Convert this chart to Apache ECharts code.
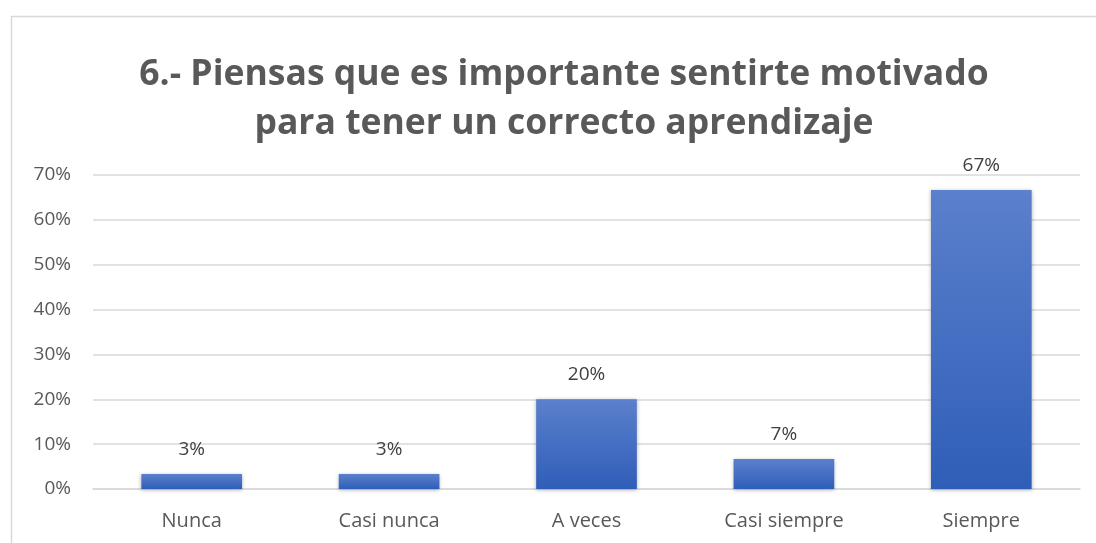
<!DOCTYPE html>
<html>
<head>
<meta charset="utf-8">
<script src="https://cdn.jsdelivr.net/npm/echarts@6/dist/echarts.min.js"></script>
<style>
  html, body { margin: 0; padding: 0; background: #fff; }
  #chart { width: 1096px; height: 543px; }
</style>
</head>
<body>
<div id="chart"></div>
<script>
var categories = ['Nunca', 'Casi nunca', 'A veces', 'Casi siempre', 'Siempre'];
var values = [3.33, 3.33, 20, 6.67, 66.67]; // porcentajes
var titleText = '6.- Piensas que es importante sentirte motivado\npara tener un correcto aprendizaje';

var myChart = echarts.init(document.getElementById('chart'));
var option = {
    animation: false,
    textStyle: { fontFamily: 'Open Sans' },
    graphic: [{
        type: 'rect',
        shape: { x: 11.5, y: 16.5, width: 1100, height: 540 },
        style: { fill: 'none', stroke: '#d9d9d9', lineWidth: 1.5 }
    }],
    title: {
        text: titleText,
        left: 559,
        textAlign: 'center',
        top: 45,
        textStyle: {
            fontSize: 35.5,
            fontWeight: 'bold',
            color: '#595959',
            lineHeight: 49,
            fontFamily: 'Open Sans'
        }
    },
    grid: { left: 93, right: 16, top: 175, bottom: 54 },
    xAxis: {
        type: 'category',
        data: categories,
        axisLine: { lineStyle: { color: '#d9d9d9', width: 1.5 } },
        axisTick: { show: false },
        axisLabel: { color: '#595959', fontSize: 20, margin: 22 }
    },
    yAxis: {
        type: 'value',
        min: 0,
        max: 70,
        interval: 10,
        axisLine: { show: false },
        axisTick: { show: false },
        splitLine: { lineStyle: { color: '#d9d9d9', width: 1.5 } },
        axisLabel: { color: '#595959', fontSize: 19, margin: 22, formatter: '{value}%' }
    },
    series: [{
        type: 'bar',
        data: values,
        barWidth: '51%',
        itemStyle: {
            color: new echarts.graphic.LinearGradient(0, 0, 0, 1, [
                { offset: 0, color: '#5b80cc' },
                { offset: 1, color: '#2f5eb8' }
            ]),
            shadowColor: 'rgba(0,0,0,0.3)',
            shadowBlur: 4,
            shadowOffsetY: 1
        },
        label: {
            show: true,
            position: 'top',
            distance: 15,
            color: '#404040',
            fontSize: 19,
            formatter: function (p) { return Math.round(p.value) + '%'; }
        }
    }]
};
myChart.setOption(option);
</script>
</body>
</html>
